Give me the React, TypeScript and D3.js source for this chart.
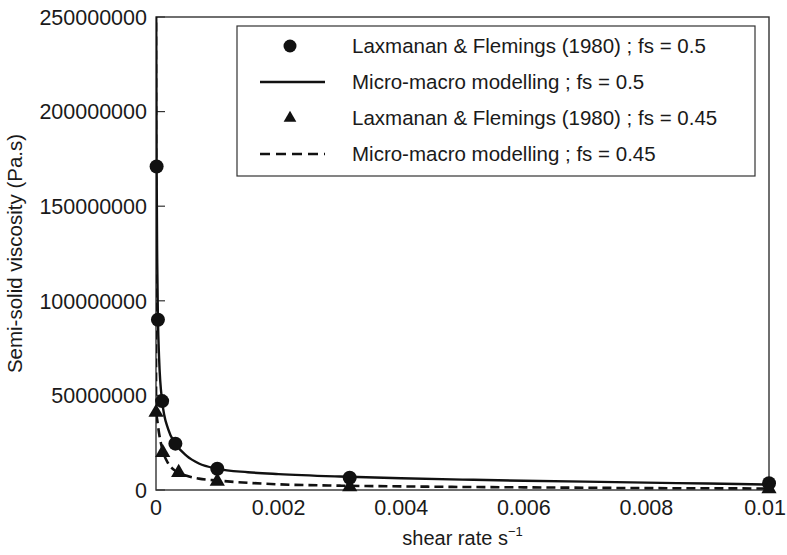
import React from "react";
import * as d3 from "d3";

const yTicks = [0, 50000000, 100000000, 150000000, 200000000, 250000000];
const xTicks = [0, 0.002, 0.004, 0.006, 0.008, 0.01];
const xTickLabels = ["0", "0.002", "0.004", "0.006", "0.008", "0.01"];

// Experimental points (Laxmanan & Flemings 1980)
const expX05 = [0.00001, 0.0000316, 0.0001, 0.000316, 0.001, 0.00316, 0.01];
const expY05 = [171000000, 90000000, 47000000, 24500000, 11200000, 6500000, 3600000];
const expX045 = [0.0000005, 0.00011, 0.00037, 0.001, 0.00316, 0.01];
const expY045 = [41000000, 19800000, 9200000, 4600000, 1600000, 600000];

// Model curves (micro-macro modelling)
const modX05 = [0.000003, 0.00001, 0.00002, 0.0000316, 0.00005, 0.0001, 0.0002, 0.000316, 0.0005, 0.0007, 0.001, 0.0015, 0.002, 0.003, 0.004, 0.005, 0.006, 0.007, 0.008, 0.009, 0.01];
const modY05 = [262000000, 172000000, 120000000, 91000000, 70000000, 47000000, 32000000, 24500000, 18000000, 14000000, 11200000, 9400000, 8400000, 7100000, 6200000, 5500000, 4900000, 4400000, 3900000, 3400000, 2900000];
const modX045 = [0, 0.000001, 0.00002, 0.00005, 0.0001, 0.0002, 0.0003, 0.0005, 0.0007, 0.001, 0.0015, 0.002, 0.003, 0.004, 0.005, 0.006, 0.007, 0.008, 0.009, 0.01];
const modY045 = [262000000, 42000000, 37000000, 30000000, 22000000, 14000000, 10500000, 7500000, 6000000, 5000000, 3800000, 3000000, 2300000, 1900000, 1600000, 1400000, 1200000, 1000000, 900000, 800000];

const legendLabels = [
  "Laxmanan & Flemings (1980) ; fs = 0.5",
  "Micro-macro modelling ; fs = 0.5",
  "Laxmanan & Flemings (1980) ; fs = 0.45",
  "Micro-macro modelling ; fs = 0.45",
];

const W = 787;
const H = 555;
const M = { left: 156, right: 769, top: 17, bottom: 490 };
const FONT = "'Liberation Sans', Arial, Helvetica, sans-serif";

export default function App() {
  const x = d3.scaleLinear().domain([0, 0.01]).range([M.left, M.right]);
  const y = d3.scaleLinear().domain([0, 250000000]).range([M.bottom, M.top]);
  const line = d3
    .line<[number, number]>()
    .x((d) => x(d[0]))
    .y((d) => y(d[1]))
    .curve(d3.curveMonotoneX);
  const solid = line(modX05.map((v, i) => [v, modY05[i]]) as [number, number][]) || "";
  const dashed = line(modX045.map((v, i) => [v, modY045[i]]) as [number, number][]) || "";
  const tri = d3.symbol().type(d3.symbolTriangle).size(100)() || "";
  const triLegend = d3.symbol().type(d3.symbolTriangle).size(70)() || "";

  const legX = 237, legY = 26, legW = 518, legH = 150;
  const rowY = (i: number) => legY + 20 + i * 36;

  return (
    <svg width={W} height={H} style={{ position: "absolute", left: 0, top: 0, background: "#fff" }} fontFamily={FONT}>
      <defs>
        <clipPath id="plotclip">
          <rect x={M.left} y={M.top} width={M.right - M.left} height={M.bottom - M.top} />
        </clipPath>
      </defs>
      <rect x={0} y={0} width={W} height={H} fill="#fff" />
      {/* frame */}
      <rect x={M.left} y={M.top} width={M.right - M.left} height={M.bottom - M.top} fill="none" stroke="#333" strokeWidth={1.4} />
      {/* y ticks */}
      {yTicks.map((t) => (
        <g key={"y" + t}>
          <line x1={M.left} x2={M.left + 9} y1={y(t)} y2={y(t)} stroke="#333" strokeWidth={1.2} />
          <text x={M.left - 9} y={y(t)} dy="0.36em" textAnchor="end" fontSize={21.5} fill="#1a1a1a">
            {String(t)}
          </text>
        </g>
      ))}
      {/* x ticks */}
      {xTicks.map((t, i) => {
        const last = i === xTicks.length - 1;
        return (
          <text
            key={"x" + t}
            x={last ? W - 1 : x(t)}
            y={M.bottom + 25}
            textAnchor={last ? "end" : "middle"}
            fontSize={21.5}
            fill="#1a1a1a"
          >
            {xTickLabels[i]}
          </text>
        );
      })}
      {/* curves */}
      <g clipPath="url(#plotclip)">
        <path d={solid} fill="none" stroke="#111" strokeWidth={2.4} />
        <path d={dashed} fill="none" stroke="#111" strokeWidth={2.6} strokeDasharray="9,5" />
      </g>
      {expX05.map((v, i) => (
        <circle key={"c" + i} cx={x(v)} cy={y(expY05[i])} r={7} fill="#111" />
      ))}
      {expX045.map((v, i) => (
        <path key={"t" + i} d={tri} transform={`translate(${x(v)},${y(expY045[i])})`} fill="#111" />
      ))}
      {/* legend */}
      <rect x={legX} y={legY} width={legW} height={legH} fill="#fff" stroke="#333" strokeWidth={1.2} />
      <circle cx={290} cy={rowY(0)} r={6.5} fill="#111" />
      <line x1={260} x2={325} y1={rowY(1)} y2={rowY(1)} stroke="#111" strokeWidth={2.4} />
      <path d={triLegend} transform={`translate(290,${rowY(2)})`} fill="#111" />
      <line x1={260} x2={325} y1={rowY(3)} y2={rowY(3)} stroke="#111" strokeWidth={2.6} strokeDasharray="10,6" />
      {legendLabels.map((l, i) => (
        <text key={l} x={352} y={rowY(i)} dy="0.36em" fontSize={20.5} fill="#1a1a1a">
          {l}
        </text>
      ))}
      {/* axis titles */}
      <text x={(M.left + M.right) / 2} y={545} textAnchor="middle" fontSize={20} fill="#1a1a1a">
        shear rate s
        <tspan fontSize={13} dy={-9}>−1</tspan>
      </text>
      <text transform={`translate(22,${(M.top + M.bottom) / 2}) rotate(-90)`} textAnchor="middle" fontSize={20.5} fill="#1a1a1a">
        Semi-solid viscosity (Pa.s)
      </text>
    </svg>
  );
}
